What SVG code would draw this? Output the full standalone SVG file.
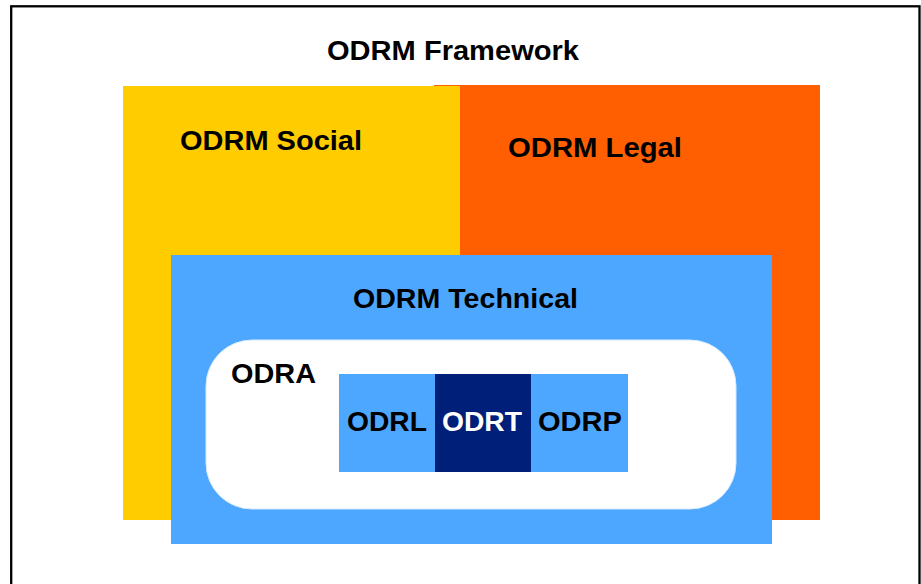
<svg xmlns="http://www.w3.org/2000/svg" width="921" height="584" viewBox="0 0 921 584">
  <style>
    .lbl { font-family: "Liberation Sans", Arial, sans-serif; font-weight: bold; font-size: 27px; fill: #000; }
    .big { font-size: 28px; }
    .inv { fill: #fff; }
  </style>
  <rect x="0" y="0" width="921" height="584" fill="#fff"/>
  <g id="frame">
    <rect x="11.2" y="6.3" width="908.3" height="700" fill="none" stroke="#000" stroke-width="2.3"/>
    <text class="lbl" x="327" y="60" textLength="252" lengthAdjust="spacingAndGlyphs">ODRM Framework</text>
  </g>
  <g id="legal">
    <rect x="434" y="85" width="386" height="435" fill="#FF5F00"/>
    <text class="lbl" x="508" y="157" textLength="174" lengthAdjust="spacingAndGlyphs">ODRM Legal</text>
  </g>
  <g id="social">
    <rect x="123" y="86" width="337" height="434" fill="#FFCC00"/>
    <text class="lbl" x="180" y="150" textLength="182" lengthAdjust="spacingAndGlyphs">ODRM Social</text>
  </g>
  <g id="technical">
    <rect x="171" y="255" width="601" height="289" fill="#4EA7FF"/>
    <text class="lbl" x="353" y="308" textLength="225" lengthAdjust="spacingAndGlyphs">ODRM Technical</text>
  </g>
  <g id="odra">
    <rect x="206" y="340" width="530" height="169" rx="46" ry="46" fill="#fff" stroke="#d6eaff" stroke-width="1"/>
    <text class="lbl big" x="231" y="383" textLength="85" lengthAdjust="spacingAndGlyphs">ODRA</text>
  </g>
  <g id="odrl">
    <rect x="339" y="374" width="96" height="98" fill="#4EA7FF"/>
    <text class="lbl big" x="347" y="431" textLength="80" lengthAdjust="spacingAndGlyphs">ODRL</text>
  </g>
  <g id="odrt">
    <rect x="435" y="374" width="96" height="98" fill="#001F78"/>
    <text class="lbl big inv" x="442" y="431" textLength="80" lengthAdjust="spacingAndGlyphs">ODRT</text>
  </g>
  <g id="odrp">
    <rect x="531" y="374" width="97" height="98" fill="#4EA7FF"/>
    <text class="lbl big" x="538" y="431" textLength="84" lengthAdjust="spacingAndGlyphs">ODRP</text>
  </g>
  <g id="connectors"/>
</svg>
